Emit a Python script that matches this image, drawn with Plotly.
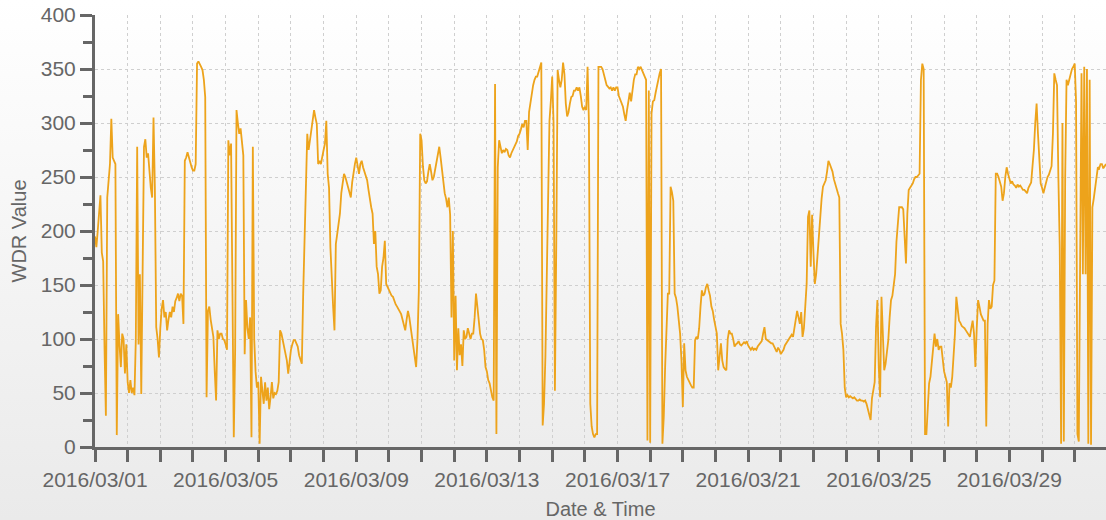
import base64

import pandas as pd
import plotly.graph_objects as go

# Hourly wind direction (WDR, degrees), March 2016, split by week
wdr_mar01_07 = [
    195, 185, 200, 215, 233, 180, 172, 92, 29, 231, 245, 262, 304, 268, 265, 262, 11, 123, 95, 74, 105, 100, 68, 95,
    60, 50, 62, 50, 55, 48, 100, 278, 95, 160, 49, 150, 278, 285, 268, 272, 255, 240, 231, 305, 240, 111, 100, 83,
    110, 128, 136, 120, 125, 108, 118, 125, 120, 130, 125, 135, 138, 142, 135, 142, 140, 114, 265, 268, 273, 268, 262, 259,
    256, 256, 262, 355, 357, 355, 352, 349, 340, 324, 46, 126, 130, 118, 110, 102, 70, 43, 108, 100, 105, 105, 100, 99,
    95, 90, 284, 270, 281, 150, 9, 90, 312, 300, 290, 295, 284, 270, 86, 136, 110, 100, 120, 9, 278, 100, 70, 55,
    60, 3, 65, 55, 40, 60, 43, 55, 35, 46, 60, 45, 50, 49, 52, 60, 108, 105, 99, 95, 86, 80, 68, 80,
    90, 95, 99, 99, 95, 93, 85, 80, 77, 142, 200, 235, 290, 275, 284, 290, 300, 312, 305, 299, 262, 265, 262, 270,
]
wdr_mar08_14 = [
    275, 281, 302, 253, 240, 185, 151, 130, 108, 188, 197, 205, 216, 235, 245, 253, 250, 245, 240, 235, 231, 245, 255, 262,
    268, 260, 253, 262, 265, 259, 255, 250, 247, 238, 228, 222, 216, 188, 200, 167, 160, 142, 145, 167, 175, 191, 151, 148,
    145, 142, 140, 139, 135, 132, 130, 128, 125, 123, 118, 112, 108, 118, 126, 120, 111, 100, 90, 86, 74, 100, 145, 290,
    284, 260, 247, 244, 246, 255, 262, 255, 247, 250, 258, 265, 270, 278, 268, 255, 245, 235, 230, 222, 231, 215, 120, 200,
    80, 140, 71, 110, 85, 95, 75, 108, 100, 102, 110, 105, 100, 105, 105, 120, 142, 130, 118, 105, 100, 99, 90, 74,
    70, 62, 59, 52, 46, 43, 336, 12, 259, 284, 278, 272, 275, 273, 276, 275, 270, 268, 272, 275, 278, 281, 283, 288,
    290, 294, 299, 296, 302, 302, 275, 310, 320, 327, 335, 340, 343, 343, 348, 352, 356, 20, 40, 83, 150, 213, 302, 320,
]
wdr_mar15_21 = [
    343, 300, 52, 188, 349, 340, 333, 340, 356, 345, 318, 306, 310, 318, 324, 325, 330, 330, 333, 330, 333, 325, 315, 312,
    315, 312, 352, 300, 40, 19, 12, 9, 12, 12, 352, 352, 352, 350, 346, 340, 335, 333, 332, 333, 330, 333, 330, 333,
    333, 325, 322, 318, 315, 308, 302, 312, 321, 328, 320, 333, 340, 345, 345, 352, 350, 352, 348, 346, 343, 340, 6, 330,
    4, 309, 320, 321, 328, 333, 340, 346, 350, 3, 28, 74, 120, 142, 142, 241, 236, 228, 142, 138, 130, 118, 105, 80,
    37, 96, 71, 65, 62, 59, 57, 55, 55, 99, 102, 100, 110, 130, 145, 140, 142, 148, 151, 145, 140, 130, 126, 118,
    110, 105, 71, 85, 96, 80, 74, 72, 71, 100, 108, 105, 105, 100, 93, 95, 96, 98, 95, 94, 96, 97, 96, 98,
    94, 92, 90, 92, 90, 91, 90, 93, 95, 96, 98, 105, 111, 100, 99, 98, 97, 96, 96, 93, 90, 88, 92, 90,
]
wdr_mar22_28 = [
    86, 88, 90, 94, 96, 99, 100, 102, 104, 102, 110, 120, 126, 120, 114, 125, 102, 110, 136, 151, 213, 219, 167, 215,
    180, 151, 160, 180, 197, 213, 230, 241, 245, 247, 255, 265, 262, 259, 255, 248, 243, 240, 235, 231, 114, 105, 90, 55,
    46, 48, 46, 47, 46, 45, 46, 44, 43, 43, 44, 43, 43, 42, 43, 40, 34, 30, 25, 45, 55, 60, 111, 136,
    74, 46, 139, 110, 71, 77, 90, 99, 120, 136, 140, 148, 160, 190, 204, 222, 222, 222, 220, 191, 170, 216, 238, 240,
    242, 244, 248, 250, 250, 252, 253, 340, 355, 350, 12, 12, 40, 59, 65, 80, 95, 105, 93, 100, 90, 93, 93, 80,
    70, 65, 60, 19, 59, 55, 65, 85, 105, 139, 130, 117, 115, 112, 111, 110, 108, 106, 104, 102, 110, 117, 105, 74,
    110, 136, 130, 123, 120, 117, 117, 19, 114, 136, 128, 130, 150, 154, 253, 253, 250, 245, 241, 228, 235, 250, 259, 253,
]
wdr_mar29_31 = [
    248, 244, 246, 243, 242, 240, 243, 241, 242, 240, 238, 238, 236, 235, 240, 242, 245, 260, 275, 300, 318, 290, 260, 244,
    240, 235, 240, 245, 250, 252, 256, 260, 290, 346, 340, 335, 250, 185, 3, 300, 5, 250, 340, 335, 340, 345, 350, 352,
    355, 320, 12, 5, 228, 346, 160, 352, 160, 350, 3, 340, 2, 222, 230, 240, 250, 259, 258, 262, 262, 258, 260, 262,
]

wdr = wdr_mar01_07 + wdr_mar08_14 + wdr_mar15_21 + wdr_mar22_28 + wdr_mar29_31
times = pd.date_range("2016-03-01 00:00", periods=len(wdr), freq="h")

# Y axis ticks
y_tick_step = 50
y_minor_step = 25
y_range = [0, 400]

DAY_MS = 86400000
FIG_W, FIG_H = 1106, 520
MARGIN = dict(l=95, r=0, t=15, b=73)

AXIS_GREY = "#666666"
GRID_GREY = "#cfcfcf"
TEXT_GREY = "#666666"
GRID_DASH = "3px,3px"
FONT = "Liberation Sans, Arial, sans-serif"

fig = go.Figure(
    go.Scatter(
        x=times,
        y=wdr,
        mode="lines",
        line=dict(color="#EDA31B", width=1.8),
        name="WDR",
        showlegend=False,
    )
)

# Soft vertical gradient behind the whole chart
svg = (
    '<svg xmlns="http://www.w3.org/2000/svg" width="10" height="100" preserveAspectRatio="none">'
    '<defs><linearGradient id="g" x1="0" y1="0" x2="0" y2="1">'
    '<stop offset="0" stop-color="#ffffff"/><stop offset="1" stop-color="#eaeaea"/>'
    "</linearGradient></defs>"
    '<rect width="10" height="100" fill="url(#g)"/></svg>'
)
svg_uri = "data:image/svg+xml;base64," + base64.b64encode(svg.encode()).decode()
plot_w = FIG_W - MARGIN["l"] - MARGIN["r"]
plot_h = FIG_H - MARGIN["t"] - MARGIN["b"]
fig.add_layout_image(
    source=svg_uri,
    xref="paper",
    yref="paper",
    x=-MARGIN["l"] / plot_w,
    y=1 + MARGIN["t"] / plot_h,
    sizex=FIG_W / plot_w,
    sizey=FIG_H / plot_h,
    xanchor="left",
    yanchor="top",
    sizing="stretch",
    layer="below",
)

fig.update_layout(
    width=FIG_W,
    height=FIG_H,
    margin=MARGIN,
    paper_bgcolor="rgba(0,0,0,0)",
    plot_bgcolor="rgba(0,0,0,0)",
    font=dict(family=FONT, color=TEXT_GREY),
    xaxis=dict(
        range=[times[0], times[-1]],
        type="date",
        tick0="2016-03-01",
        dtick=4 * DAY_MS,
        tickformat="%Y/%m/%d",
        ticks="outside",
        ticklen=12,
        tickwidth=3,
        tickcolor=AXIS_GREY,
        tickfont=dict(size=21, color=TEXT_GREY, family=FONT),
        showline=True,
        linecolor=AXIS_GREY,
        linewidth=3,
        showgrid=True,
        gridcolor=GRID_GREY,
        griddash=GRID_DASH,
        gridwidth=1,
        zeroline=False,
        minor=dict(
            tick0="2016-03-01",
            dtick=DAY_MS,
            ticks="outside",
            ticklen=12,
            tickwidth=3,
            tickcolor=AXIS_GREY,
            showgrid=True,
            gridcolor=GRID_GREY,
            griddash=GRID_DASH,
            gridwidth=1,
        ),
        title=dict(text="Date & Time", font=dict(size=20, color=TEXT_GREY, family=FONT), standoff=12),
        fixedrange=True,
    ),
    yaxis=dict(
        range=y_range,
        tick0=0,
        dtick=y_tick_step,
        ticks="outside",
        ticklen=12,
        tickwidth=3,
        tickcolor=AXIS_GREY,
        tickfont=dict(size=21, color=TEXT_GREY, family=FONT),
        showline=True,
        linecolor=AXIS_GREY,
        linewidth=3,
        showgrid=True,
        gridcolor=GRID_GREY,
        griddash=GRID_DASH,
        gridwidth=1,
        zeroline=False,
        minor=dict(
            dtick=y_minor_step,
            ticks="outside",
            ticklen=9,
            tickwidth=3,
            tickcolor=AXIS_GREY,
            showgrid=False,
        ),
        title=dict(text="WDR Value", font=dict(size=20, color=TEXT_GREY, family=FONT), standoff=9),
        fixedrange=True,
    ),
)

fig.write_html("out.html")
